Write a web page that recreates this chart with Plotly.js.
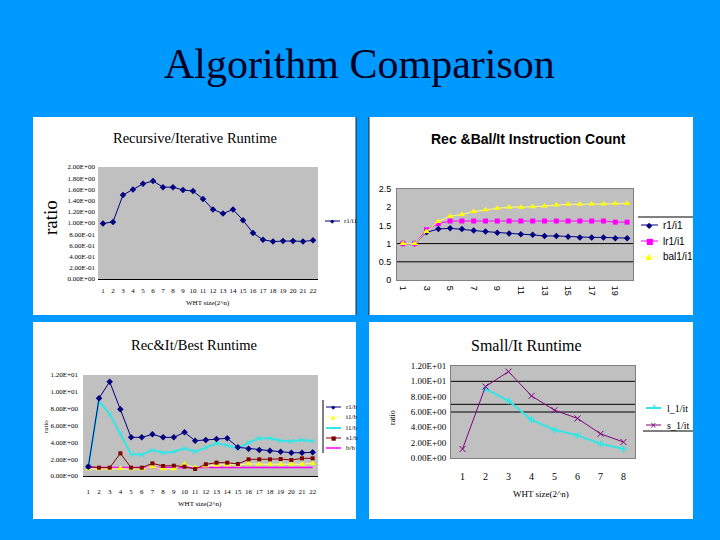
<!DOCTYPE html>
<html>
<head>
<meta charset="utf-8">
<script src="https://cdn.plot.ly/plotly-3.0.1.min.js"></script>
<style>
  html, body { margin: 0; padding: 0; background: #0099ff; }
  #chart { width: 720px; height: 540px; }
</style>
</head>
<body>
<div id="chart"></div>
<script>
// ---- values ----

// top left: Recursive/Iterative Runtime
const whtTL = [1, 2, 3, 4, 5, 6, 7, 8, 9, 10, 11, 12, 13, 14, 15, 16, 17, 18, 19, 20, 21, 22];
const recOverIt = [0.99, 1.02, 1.50, 1.60, 1.70, 1.75, 1.64, 1.64, 1.59, 1.57, 1.43,
  1.24, 1.17, 1.24, 1.05, 0.82, 0.70, 0.67, 0.68, 0.68, 0.67, 0.69];

// top right: Rec &Bal/It Instruction Count
const whtTR = [1, 2, 3, 4, 5, 6, 7, 8, 9, 10, 11, 12, 13, 14, 15, 16, 17, 18, 19, 20];
const whtTRLabels = [1, 3, 5, 7, 9, 11, 13, 15, 17, 19];
const instrR1 = [1.0, 1.0, 1.31, 1.40, 1.42, 1.40, 1.36, 1.33, 1.30, 1.28,
  1.26, 1.24, 1.21, 1.21, 1.19, 1.17, 1.17, 1.17, 1.15, 1.15];
const instrLr1 = [1.0, 1.0, 1.38, 1.55, 1.62, 1.62, 1.62, 1.62, 1.62, 1.62,
  1.62, 1.62, 1.62, 1.62, 1.62, 1.62, 1.62, 1.62, 1.59, 1.59];
const instrBal1 = [1.0, 1.0, 1.33, 1.61, 1.75, 1.80, 1.88, 1.93, 1.97, 2.0,
  2.0, 2.01, 2.03, 2.06, 2.08, 2.08, 2.09, 2.09, 2.10, 2.10];

// bottom left: Rec&It/Best Runtime
const whtBL = [1, 2, 3, 4, 5, 6, 7, 8, 9, 10, 11, 12, 13, 14, 15, 16, 17, 18, 19, 20, 21, 22];
const bestR1 = [1.11, 9.23, 11.2, 7.92, 4.59, 4.59, 4.95, 4.59, 4.59, 5.19, 4.20,
  4.28, 4.40, 4.48, 3.41, 3.25, 3.09, 3.01, 2.89, 2.77, 2.77, 2.81];
const bestI1 = [0.85, 0.85, 0.85, 0.90, 0.85, 0.85, 1.10, 0.85, 0.85, 1.40, 1.00,
  1.20, 1.30, 1.35, 1.30, 1.45, 1.40, 1.40, 1.40, 1.40, 1.40, 1.50];
const bestL1 = [1.11, 8.91, 7.37, 5.07, 2.61, 2.53, 3.09, 2.77, 2.89, 3.29, 2.89,
  3.37, 3.88, 3.64, 3.29, 3.96, 4.48, 4.48, 4.20, 4.12, 4.28, 4.12];
const bestS1 = [1.11, 0.99, 0.99, 2.69, 0.99, 0.99, 1.50, 1.19, 1.23, 1.11, 0.83,
  1.39, 1.58, 1.58, 1.43, 1.98, 1.98, 1.98, 2.02, 1.90, 2.10, 2.10];
const bestB = [1, 1, 1, 1, 1, 1, 1, 1, 1, 1, 1, 1, 1, 1, 1, 1, 1, 1, 1, 1, 1, 1];

// bottom right: Small/It Runtime
const whtBR = [1, 2, 3, 4, 5, 6, 7, 8];
const smallL1 = [null, 9.01, 7.45, 4.98, 3.68, 2.95, 1.86, 1.17];
const smallS1 = [1.17, 9.32, 11.27, 8.10, 6.24, 5.16, 3.16, 2.08];

// tick labels as printed by the spreadsheet
const ratioTicks = [0, 0.2, 0.4, 0.6, 0.8, 1.0, 1.2, 1.4, 1.6, 1.8, 2.0];
const ratioTickText = ["0.00E+00", "2.00E-01", "4.00E-01", "6.00E-01", "8.00E-01",
  "1.00E+00", "1.20E+00", "1.40E+00", "1.60E+00", "1.80E+00", "2.00E+00"];
const instrTicks = [0, 0.5, 1, 1.5, 2, 2.5];
const instrTickText = ["0", "0.5", "1", "1.5", "2", "2.5"];
const runtimeTicks = [0, 2, 4, 6, 8, 10, 12];
const runtimeTickText = ["0.00E+00", "2.00E+00", "4.00E+00", "6.00E+00",
  "8.00E+00", "1.00E+01", "1.20E+01"];

// black rules drawn across the grey plot areas
const instrRules = [0.5, 1];
const smallRules = [6, 7, 10];

// ---- layout helpers ----
const W = 720, H = 540;
const px = (x) => x / W;
const py = (y) => 1 - y / H;
const SERIF = "Liberation Serif, Times New Roman, serif";
const SANS = "Liberation Sans, Arial, sans-serif";
const NAVY = "#000080", MAGENTA = "#ff00ff", YELLOW = "#ffff00";
const CYAN = "#33e6e6", BROWN = "#800000", PURPLE = "#800080";

const series = (axes, x, y, s) => ({
  type: "scatter",
  mode: s.mode || "lines+markers",
  x: x,
  y: y,
  xaxis: axes[0],
  yaxis: axes[1],
  name: s.name,
  showlegend: false,
  connectgaps: false,
  line: { color: s.line || s.color, width: s.width || 1 },
  marker: { symbol: s.symbol, size: s.size || 5, color: s.color, line: { width: s.mlw || 0, color: s.color } },
});

const sTL = [
  { name: "r1/i1", color: NAVY, symbol: "diamond", glyph: "\u25C6" },
];
const sTR = [
  { name: "r1/i1", color: NAVY, symbol: "diamond", glyph: "\u25C6" },
  { name: "lr1/i1", color: MAGENTA, symbol: "square", glyph: "\u25A0" },
  { name: "bal1/i1", color: YELLOW, line: "#ffff80", symbol: "triangle-up", size: 6, glyph: "\u25B2" },
];
const sBL = [
  { name: "r1/b", color: NAVY, symbol: "diamond", glyph: "\u25C6" },
  { name: "i1/b", color: YELLOW, line: "#ffff99", symbol: "triangle-up", size: 6, glyph: "\u25B2" },
  { name: "l1/b", color: CYAN, symbol: "x-thin-open", width: 2, mlw: 1, glyph: "\u00D7" },
  { name: "s1/b", color: BROWN, symbol: "square", size: 4, glyph: "\u25A0" },
  { name: "b/b", color: MAGENTA, mode: "lines", width: 1.5, glyph: "" },
];
const sBR = [
  { name: "l_1/it", color: CYAN, symbol: "asterisk-open", width: 2, mlw: 1, size: 6, glyph: "*" },
  { name: "s_1/it", color: PURPLE, symbol: "x-thin-open", mlw: 1, size: 6, glyph: "\u00D7" },
];

const data = [
  series(["x", "y"], whtTL, recOverIt, sTL[0]),
  series(["x2", "y2"], whtTR, instrR1, sTR[0]),
  series(["x2", "y2"], whtTR, instrLr1, sTR[1]),
  series(["x2", "y2"], whtTR, instrBal1, sTR[2]),
  series(["x3", "y3"], whtBL, bestB, sBL[4]),
  series(["x3", "y3"], whtBL, bestI1, sBL[1]),
  series(["x3", "y3"], whtBL, bestL1, sBL[2]),
  series(["x3", "y3"], whtBL, bestS1, sBL[3]),
  series(["x3", "y3"], whtBL, bestR1, sBL[0]),
  series(["x4", "y4"], whtBR, smallL1, sBR[0]),
  series(["x4", "y4"], whtBR, smallS1, sBR[1]),
];

// ---- shapes: white panels, grey plot areas, rules ----
const panels = [
  [33, 356, 117, 315],
  [369, 693, 117, 315],
  [33, 356, 322, 519],
  [369, 693, 322, 519],
];
const shapes = panels.map((p) => ({
  type: "rect", xref: "paper", yref: "paper", layer: "below",
  x0: px(p[0]), x1: px(p[1]), y0: py(p[3]), y1: py(p[2]),
  fillcolor: "#ffffff", line: { width: 0 },
}));
// thin dark edges between the two top panels
shapes.push({ type: "line", xref: "paper", yref: "paper", layer: "below",
  x0: px(356), x1: px(356), y0: py(315), y1: py(117), line: { color: "#222", width: 1 } });
shapes.push({ type: "line", xref: "paper", yref: "paper", layer: "below",
  x0: px(369), x1: px(369), y0: py(315), y1: py(117), line: { color: "#222", width: 1 } });

["", "2", "3", "4"].forEach((n) => {
  shapes.push({
    type: "rect", xref: "x" + n + " domain", yref: "y" + n + " domain", layer: "below",
    x0: 0, x1: 1, y0: 0, y1: 1, fillcolor: "#c0c0c0", line: { width: 0 },
  });
});
instrRules.forEach((v) => shapes.push({
  type: "line", xref: "x2 domain", yref: "y2", layer: "below",
  x0: 0, x1: 1, y0: v, y1: v, line: { color: "#000", width: 1 },
}));
smallRules.forEach((v) => shapes.push({
  type: "line", xref: "x4 domain", yref: "y4", layer: "below",
  x0: 0, x1: 1, y0: v, y1: v, line: { color: "#000", width: 1 },
}));

// ---- annotations: titles, axis titles ----
const text = (t, x, y, size, family, extra) => Object.assign({
  text: t, xref: "paper", yref: "paper", x: px(x), y: py(y),
  xanchor: "center", yanchor: "middle", showarrow: false,
  font: { family: family, size: size, color: "#000" },
}, extra || {});

const annotations = [
  text("Algorithm Comparison", 359, 64, 42, SERIF, { font: { family: SERIF, size: 42, color: "#000022" } }),
  text("Recursive/Iterative Runtime", 195, 138, 14.5, SERIF),
  text("<b>Rec &amp;Bal/It Instruction Count</b>", 528, 139, 14, SANS),
  text("Rec&amp;It/Best Runtime", 194, 345, 14.5, SERIF),
  text("Small/It Runtime", 526, 345, 16, SERIF),
  text("ratio", 51, 218, 19, SERIF, { textangle: -90 }),
  text("WHT size(2^n)", 208, 303, 7, SERIF),
  text("ratio", 46, 427, 7, SERIF, { textangle: -90 }),
  text("WHT size(2^n)", 200, 504, 7, SERIF),
  text("ratio", 392, 417, 8, SERIF, { textangle: -90 }),
  text("WHT size(2^n)", 541, 494, 9, SERIF),
];

// ---- hand-placed legends, one per panel, as on the slide ----
const legends = [
  { items: sTL, x0: 325, x1: 340, tx: 342, ys: [221], size: 7, family: SERIF },
  { items: sTR, x0: 641, x1: 658, tx: 661, ys: [225, 241, 257], size: 10, family: SANS },
  { items: sBL, x0: 326, x1: 341, tx: 344, ys: [407, 417, 428, 438, 448], size: 7, family: SERIF },
  { items: sBR, x0: 646, x1: 661, tx: 665, ys: [408, 425], size: 10, family: SERIF },
];
legends.forEach((lg) => {
  lg.items.forEach((s, i) => {
    const y = lg.ys[i];
    shapes.push({ type: "line", xref: "paper", yref: "paper",
      x0: px(lg.x0), x1: px(lg.x1), y0: py(y), y1: py(y),
      line: { color: s.line || s.color, width: s.width || 1 } });
    if (s.glyph) {
      annotations.push(text(s.glyph, (lg.x0 + lg.x1) / 2, y, lg.size, "DejaVu Sans",
        { font: { family: "DejaVu Sans", size: lg.size * 0.8, color: s.color } }));
    }
    annotations.push(text(s.name, lg.tx, y, lg.size, lg.family, { xanchor: "left" }));
  });
});
// frame bits around the legends
shapes.push({ type: "line", xref: "paper", yref: "paper", x0: px(638), x1: px(693),
  y0: py(217), y1: py(217), line: { color: "#000", width: 1 } });
shapes.push({ type: "line", xref: "paper", yref: "paper", x0: px(323), x1: px(323),
  y0: py(453), y1: py(400), line: { color: "#000", width: 1 } });
shapes.push({ type: "line", xref: "paper", yref: "paper", x0: px(643), x1: px(693),
  y0: py(431), y1: py(431), line: { color: "#000", width: 1 } });

// ---- axes ----
const tick = (family, size) => ({ family: family, size: size, color: "#000" });
const baseAxis = { showgrid: false, zeroline: false, ticks: "", fixedrange: true };

const layout = {
  width: W,
  height: H,
  margin: { l: 0, r: 0, t: 0, b: 0 },
  paper_bgcolor: "#0099ff",
  plot_bgcolor: "rgba(0,0,0,0)",
  showlegend: false,
  shapes: shapes,
  annotations: annotations,
  xaxis: Object.assign({}, baseAxis, {
    domain: [px(98), px(318)], anchor: "y", range: [0.5, 22.5],
    tickvals: whtTL, tickangle: 0, showline: true, linecolor: "#000", linewidth: 1,
    tickfont: tick(SERIF, 7), ticklabelstandoff: 5,
  }),
  yaxis: Object.assign({}, baseAxis, {
    domain: [py(279), py(167)], anchor: "x", range: [0, 2],
    tickvals: ratioTicks, ticktext: ratioTickText, tickfont: tick(SERIF, 7),
    ticklabelstandoff: 2,
  }),
  xaxis2: Object.assign({}, baseAxis, {
    domain: [px(397), px(633)], anchor: "y2", range: [0.5, 20.5],
    tickvals: whtTRLabels, tickangle: 90, showline: true, mirror: true,
    linecolor: "#808080", linewidth: 1, tickfont: tick(SANS, 9), ticklabelstandoff: 3,
  }),
  yaxis2: Object.assign({}, baseAxis, {
    domain: [py(280), py(189)], anchor: "x2", range: [0, 2.5],
    tickvals: instrTicks, ticktext: instrTickText, showline: true, mirror: true,
    linecolor: "#808080", linewidth: 1, tickfont: tick(SANS, 9), ticklabelstandoff: 3,
  }),
  xaxis3: Object.assign({}, baseAxis, {
    domain: [px(83), px(318)], anchor: "y3", range: [0.5, 22.5],
    tickvals: whtBL, tickangle: 0, showline: true, linecolor: "#000", linewidth: 1,
    tickfont: tick(SERIF, 7), ticklabelstandoff: 9,
  }),
  yaxis3: Object.assign({}, baseAxis, {
    domain: [py(476), py(375)], anchor: "x3", range: [0, 12],
    tickvals: runtimeTicks, ticktext: runtimeTickText, tickfont: tick(SERIF, 7),
    ticklabelstandoff: 4,
  }),
  xaxis4: Object.assign({}, baseAxis, {
    domain: [px(451), px(635)], anchor: "y4", range: [0.5, 8.5],
    tickvals: whtBR, tickangle: 0, showline: true, mirror: true,
    linecolor: "#808080", linewidth: 1, tickfont: tick(SERIF, 10), ticklabelstandoff: 9,
  }),
  yaxis4: Object.assign({}, baseAxis, {
    domain: [py(458), py(366)], anchor: "x4", range: [0, 12],
    tickvals: runtimeTicks, ticktext: runtimeTickText, showline: true, mirror: true,
    linecolor: "#808080", linewidth: 1, tickfont: tick(SERIF, 9), ticklabelstandoff: 2,
  }),
};

Plotly.newPlot("chart", data, layout, { staticPlot: true, displayModeBar: false });
</script>
</body>
</html>
